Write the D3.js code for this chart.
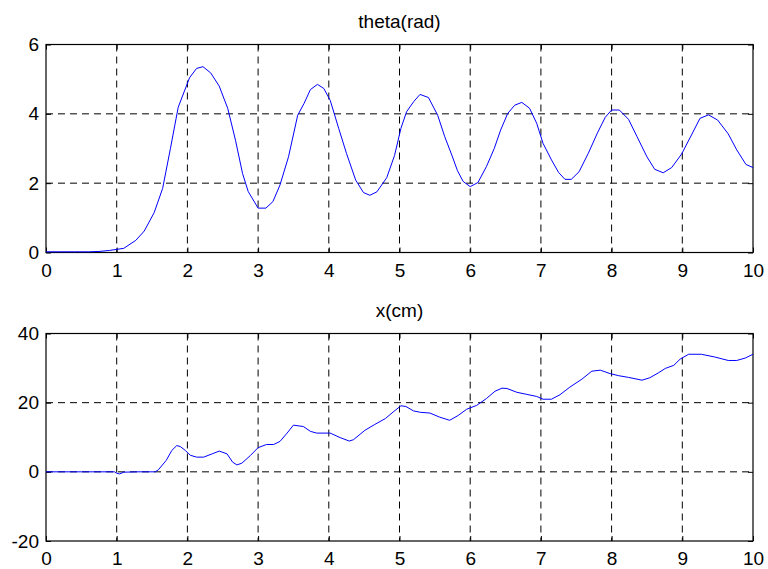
<!DOCTYPE html>
<html>
<head>
<meta charset="utf-8">
<script src="https://cdn.jsdelivr.net/npm/d3@7"></script>
<style>
  body { margin: 0; background: #fff; }
  svg text { font-family: Arial, "Liberation Sans", sans-serif; }
</style>
</head>
<body>
<div id="graph"></div>
<script>
var t_theta = [0, 0.2, 0.4, 0.6, 0.75, 0.9, 1.0, 1.1, 1.27, 1.39, 1.53, 1.65, 1.76, 1.87,
    2.03, 2.13, 2.22, 2.33, 2.45, 2.57, 2.68, 2.78, 2.86, 3.0, 3.11, 3.21, 3.31, 3.43,
    3.56, 3.65, 3.74, 3.84, 3.93, 4.02, 4.14, 4.25, 4.38, 4.49, 4.58, 4.68, 4.82, 4.93,
    5.02, 5.10, 5.20, 5.29, 5.41, 5.54, 5.64, 5.74, 5.82, 5.90, 6.0, 6.11, 6.23, 6.34,
    6.43, 6.53, 6.63, 6.73, 6.84, 6.94, 7.03, 7.15, 7.25, 7.34, 7.43, 7.54, 7.67, 7.80,
    7.91, 8.0, 8.11, 8.24, 8.36, 8.50, 8.61, 8.73, 8.85, 8.99, 9.13, 9.25, 9.37, 9.50,
    9.65, 9.77, 9.90, 10.0];
var theta = [0.02, 0.02, 0.02, 0.02, 0.03, 0.06, 0.09, 0.12, 0.35, 0.62, 1.15, 1.85, 3.0, 4.19,
    5.04, 5.31, 5.36, 5.18, 4.8, 4.16, 3.24, 2.28, 1.76, 1.28, 1.28, 1.47, 1.95, 2.76,
    3.96, 4.3, 4.7, 4.85, 4.73, 4.39, 3.58, 2.86, 2.09, 1.73, 1.65, 1.75, 2.16, 2.8,
    3.58, 4.06, 4.35, 4.56, 4.47, 3.96, 3.34, 2.81, 2.36, 2.05, 1.9, 2.02, 2.48, 3.0,
    3.53, 4.01, 4.25, 4.33, 4.16, 3.73, 3.15, 2.67, 2.31, 2.11, 2.11, 2.33, 2.86, 3.45,
    3.9, 4.11, 4.11, 3.84, 3.34, 2.76, 2.4, 2.3, 2.45, 2.84, 3.39, 3.87, 3.97, 3.82,
    3.42, 2.96, 2.54, 2.45];

var t_x = [0, 0.5, 0.97, 1.0, 1.04, 1.1, 1.3, 1.545, 1.59, 1.70, 1.78, 1.85, 1.9, 1.97,
    2.04, 2.13, 2.23, 2.35, 2.45, 2.56, 2.64, 2.70, 2.77, 2.89, 3.0, 3.12, 3.22, 3.31,
    3.41, 3.50, 3.64, 3.74, 3.83, 4.02, 4.16, 4.29, 4.35, 4.51, 4.65, 4.80, 4.91, 5.02,
    5.09, 5.2, 5.30, 5.43, 5.57, 5.71, 5.83, 5.95, 6.09, 6.23, 6.35, 6.45, 6.52, 6.66,
    6.80, 6.94, 7.03, 7.15, 7.27, 7.41, 7.58, 7.72, 7.84, 7.98, 8.10, 8.24, 8.43, 8.54,
    8.66, 8.76, 8.88, 8.97, 9.09, 9.27, 9.46, 9.65, 9.77, 9.89, 10.0];
var x_cm = [0, 0, 0, -0.4, -0.6, -0.1, 0, 0, 0.6, 3.3, 6.2, 7.6, 7.3, 6.2,
    4.8, 4.25, 4.25, 5.2, 6.0, 5.2, 2.8, 2.0, 2.5, 4.7, 7.0, 7.9, 7.9, 8.8,
    11.2, 13.5, 13.1, 11.7, 11.2, 11.2, 9.9, 8.9, 9.3, 12.0, 13.7, 15.4, 17.3, 19.1,
    18.9, 17.6, 17.2, 17.0, 15.8, 14.9, 16.3, 18.1, 19.2, 21.2, 23.3, 24.2, 24.1, 23.0,
    22.4, 21.8, 21.0, 21.0, 22.3, 24.5, 26.8, 29.1, 29.4, 28.4, 27.8, 27.3, 26.5, 27.2,
    28.6, 29.9, 30.8, 32.6, 34.0, 34.0, 33.2, 32.2, 32.2, 32.9, 34.0];

var ticks_t = [0, 1, 2, 3, 4, 5, 6, 7, 8, 9, 10];
var ticks_theta = [0, 2, 4, 6];
var ticks_x = [-20, 0, 20, 40];

function libelle(d) { return String(d); }

function dessinSousGraphe(t, valeurs, titre, ticksY, domaineY, haut, bas) {
    var gauche = 46, droite = 753,
        width = droite - gauche,
        height = bas - haut,
        svg = d3.select("#graph svg"),

        x = d3.scaleLinear().domain([0, 10]).range([0, width]),
        y = d3.scaleLinear().domain(domaineY).range([height, 0]),

        g = svg.append("g")
            .attr("transform", "translate(" + gauche + "," + haut + ")");

    // grille pointillée
    g.selectAll(".grilleV")
        .data(ticks_t.slice(1, -1))
        .enter()
        .append("line")
        .attr("x1", function (d) { return x(d); })
        .attr("x2", function (d) { return x(d); })
        .attr("y1", 0)
        .attr("y2", height)
        .style("stroke", "#000")
        .style("stroke-width", 1)
        .style("stroke-dasharray", "7 5");
    g.selectAll(".grilleH")
        .data(ticksY.slice(1, -1))
        .enter()
        .append("line")
        .attr("x1", 0)
        .attr("x2", width)
        .attr("y1", function (d) { return y(d); })
        .attr("y2", function (d) { return y(d); })
        .style("stroke", "#000")
        .style("stroke-width", 1)
        .style("stroke-dasharray", "7 5");

    // axes, graduations vers l'intérieur
    var axeBas = g.append("g")
        .attr("transform", "translate(0," + height + ")")
        .call(d3.axisBottom(x).tickValues(ticks_t).tickSize(-5).tickPadding(11).tickFormat(libelle));
    g.append("g")
        .call(d3.axisTop(x).tickValues(ticks_t).tickSize(-5).tickFormat(""));
    var axeGauche = g.append("g")
        .call(d3.axisLeft(y).tickValues(ticksY).tickSize(-5).tickPadding(7).tickFormat(libelle));
    g.append("g")
        .attr("transform", "translate(" + width + ",0)")
        .call(d3.axisRight(y).tickValues(ticksY).tickSize(-5).tickFormat(""));

    g.selectAll(".domain").remove();
    g.selectAll(".tick line").style("stroke", "#000");
    axeBas.selectAll("text").style("font-size", "19px").style("fill", "#000");
    axeGauche.selectAll("text").style("font-size", "19px").style("fill", "#000");

    g.append("rect")
        .attr("width", width)
        .attr("height", height)
        .style("fill", "none")
        .style("stroke", "#000")
        .style("stroke-width", 1.2);

    svg.append("text")
        .attr("x", gauche + width / 2)
        .attr("y", haut - 17)
        .style("text-anchor", "middle")
        .style("font-size", "19px")
        .text(titre);

    g.append("path")
        .datum(d3.range(t.length))
        .attr("fill", "none")
        .attr("stroke", "#0000ff")
        .attr("stroke-width", 1)
        .attr("d", d3.line()
            .x(function (i) { return x(t[i]); })
            .y(function (i) { return y(valeurs[i]); })
            );
}

d3.select("#graph").append("svg")
    .attr("width", 768)
    .attr("height", 569);

dessinSousGraphe(t_theta, theta, "theta(rad)", ticks_theta, [0, 6], 44.5, 252.5);
dessinSousGraphe(t_x, x_cm, "x(cm)", ticks_x, [-20, 40], 333.5, 541);
</script>
</body>
</html>
